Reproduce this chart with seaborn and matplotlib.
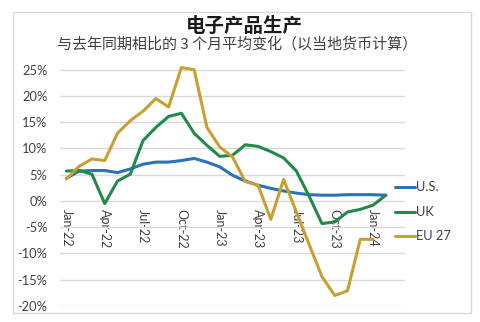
import numpy as np
import pandas as pd
import seaborn as sns
import matplotlib
matplotlib.use("Agg")
import matplotlib.pyplot as plt
from matplotlib.patches import Rectangle

# Monthly data, Jan-22 .. Feb-24 (3-month average, % change y/y)
months = ["Jan-22", "Feb-22", "Mar-22", "Apr-22", "May-22", "Jun-22", "Jul-22",
          "Aug-22", "Sep-22", "Oct-22", "Nov-22", "Dec-22", "Jan-23", "Feb-23",
          "Mar-23", "Apr-23", "May-23", "Jun-23", "Jul-23", "Aug-23", "Sep-23",
          "Oct-23", "Nov-23", "Dec-23", "Jan-24", "Feb-24"]
us = [4.3, 5.7, 5.8, 5.8, 5.4, 6.1, 7.0, 7.4, 7.4, 7.7, 8.1, 7.4, 6.5, 4.9,
      3.8, 3.0, 2.4, 1.9, 1.5, 1.2, 1.1, 1.1, 1.2, 1.2, 1.2, 1.1]
uk = [5.7, 5.8, 5.1, -0.5, 3.8, 5.1, 11.5, 14.0, 16.1, 16.7, 12.9, 10.6, 8.5,
      8.7, 10.7, 10.4, 9.4, 8.2, 5.7, 0.9, -4.3, -4.0, -2.1, -1.6, -0.8, 1.1]
eu27 = [4.2, 6.6, 8.0, 7.7, 12.9, 15.3, 17.1, 19.5, 17.9, 25.4, 25.0, 14.0,
        10.3, 8.4, 3.7, 3.0, -3.5, 4.1, -2.1, -8.3, -14.4, -18.0, -17.1, -7.3,
        -7.3, np.nan]
series_names = ["U.S.", "UK", "EU 27"]
tick_labels = ["Jan-22", "Apr-22", "Jul-22", "Oct-22", "Jan-23", "Apr-23",
               "Jul-23", "Oct-23", "Jan-24"]
y_ticks = [25, 20, 15, 10, 5, 0, -5, -10, -15, -20]

title = "电子产品生产"
subtitle = "与去年同期相比的 3 个月平均变化（以当地货币计算）"

idx = np.arange(len(months))
df = pd.concat([
    pd.DataFrame({"m": idx, "value": vals, "series": name})
    for name, vals in zip(series_names, [us, uk, eu27])
])
df = df.dropna()

sns.set_theme(style="white")
plt.rcParams["font.family"] = ["Lato", "Noto Sans CJK SC", "DejaVu Sans"]

# Plot area: -20% at y=306 px, 25% at y=69.7 px; a little headroom above 25%
px_per_unit = (306 - 69.7) / 45
y_top = 26
top_px = 306 - px_per_unit * (y_top + 20)
fig = plt.figure(figsize=(4.81, 3.22), dpi=100)
ax = fig.add_axes([60 / 481, 1 - 306 / 322, 345 / 481, (306 - top_px) / 322])

palette = {"U.S.": "#2B73B6", "UK": "#23894B", "EU 27": "#C8A02F"}
sns.lineplot(data=df, x="m", y="value", hue="series", hue_order=series_names,
             palette=palette, linewidth=2.2, ax=ax, legend=False, sort=True)

ax.set_xlim(-0.5, 26.5)
ax.set_ylim(-20, y_top)
ax.set_yticks(y_ticks)
ax.set_yticklabels([f"{v}%" for v in y_ticks])
ax.yaxis.grid(True, color="#D9D9D9", linewidth=1.0)
ax.xaxis.grid(False)
ax.set_axisbelow(True)
for s in ax.spines.values():
    s.set_visible(False)
ax.spines["bottom"].set_position(("data", 0))
ax.set_xticks(idx[::3][:len(tick_labels)])
ax.set_xticklabels(tick_labels, rotation=-90, va="top", ha="center")
ax.tick_params(axis="x", length=0, pad=6, labelsize=9, labelcolor="#404040")
ax.tick_params(axis="y", length=0, pad=9, labelsize=9.3, labelcolor="#404040")
ax.set_xlabel("")
ax.set_ylabel("")

# Legend drawn on the right, outside the gridlines
leg_y = [186.7, 211.7, 235.7]
for name, yp in zip(series_names, leg_y):
    yf = 1 - yp / 322
    fig.add_artist(plt.Line2D([395 / 481, 415 / 481], [yf, yf],
                              color=palette[name], linewidth=2.2))
    fig.text(416 / 481, yf, name, ha="left", va="center", fontsize=9.3,
             color="#404040")

fig.text(244 / 481, 1 - 26 / 322, title, ha="center", va="center",
         fontsize=14, fontweight="bold", color="#1A1A1A",
         family=["Noto Sans CJK SC", "DejaVu Sans"])
fig.text(237 / 481, 1 - 44 / 322, subtitle, ha="center", va="center",
         fontsize=10.8, color="#404040",
         family=["Noto Sans CJK SC", "DejaVu Sans"])

fig.add_artist(Rectangle((13 / 481, 1 - 313 / 322), (471 - 13) / 481,
                         (313 - 12) / 322, transform=fig.transFigure,
                         fill=False, edgecolor="#D9D9D9", linewidth=1.0))

fig.savefig("out.png", dpi=100)
